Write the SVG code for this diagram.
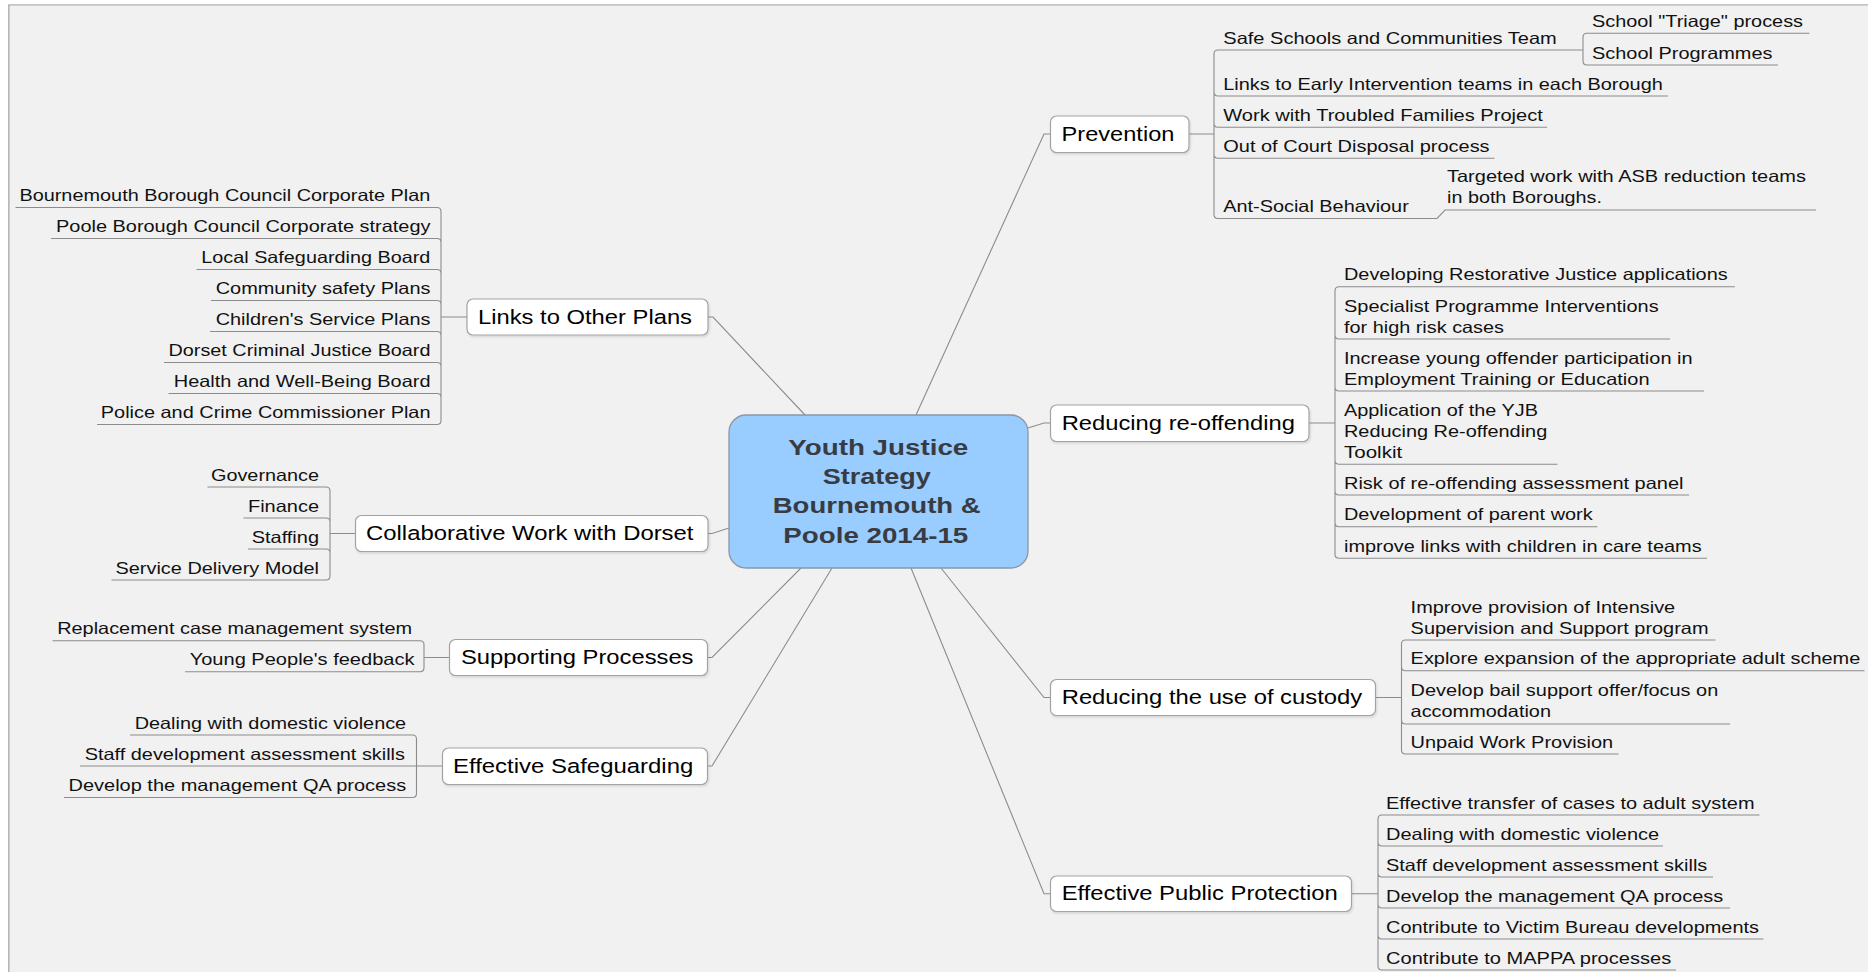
<svg xmlns="http://www.w3.org/2000/svg" width="1868" height="972" viewBox="0 0 1868 972">
<defs>
<style>
.page{fill:#f1f1f1;stroke:#8a8a8a;stroke-width:1.2}
.ln{fill:none;stroke:#8c8c8c;stroke-width:1.1}
.ul{fill:none;stroke:#8c8c8c;stroke-width:1.1}
.topic{fill:#ffffff;stroke:#a3a3a3;stroke-width:1.2}
.center{fill:#99ccff;stroke:#8a97a6;stroke-width:1.3}
.lf{font-family:"Liberation Sans",Arial,sans-serif;font-size:16.5px;fill:#111}
.tp{font-family:"Liberation Sans",Arial,sans-serif;font-size:20.5px;fill:#000}
.ct{font-family:"Liberation Sans",Arial,sans-serif;font-size:22.5px;font-weight:bold;fill:#383c42}
</style>
<filter id="sh" x="-5%" y="-20%" width="110%" height="150%">
<feDropShadow dx="1" dy="1.5" stdDeviation="1" flood-color="#000" flood-opacity="0.12"/>
</filter>
</defs>
<rect x="0" y="0" width="1868" height="972" fill="#ffffff"/>
<path class="page" d="M9,973 V5 H1869"/>
<rect x="9.6" y="5.6" width="1860" height="968" fill="#f1f1f1"/>

<g id="connectors">
<path class="ln" d="M708,317 h5 L805,415"/>
<path class="ln" d="M708,533.5 h4 L729,528"/>
<path class="ln" d="M708,657.5 h4 L801,568"/>
<path class="ln" d="M708,766 h4 L832,568"/>
<path class="ln" d="M916,415 L1044,134 H1050.5"/>
<path class="ln" d="M1028,428 L1044,423 H1050.5"/>
<path class="ln" d="M941,568 L1044,697.5 H1050.5"/>
<path class="ln" d="M911,568 L1044,893.7 H1050.5"/>

<path class="ul" d="M15.5,207.5 H437 Q441,207.5 441,211.5 V420.5 Q441,424.5 437,424.5 H97 M51,238.5 H437 Q441,238.5 441,242.5 M196.5,269.5 H437 Q441,269.5 441,273.5 M211,300.5 H437 Q441,300.5 441,304.5 M210,331.5 H437 Q441,331.5 441,335.5 M164,362.5 H437 Q441,362.5 441,366.5 M168.5,393.5 H437 Q441,393.5 441,397.5 M441,317 H467"/>
<path class="ul" d="M207.5,487 H326 Q330,487 330,491 V576 Q330,580 326,580 H111.5 M243.5,518 H326 Q330,518 330,522 M248,549 H326 Q330,549 330,553 M330,533.5 H355.5"/>
<path class="ul" d="M52.5,640.7 H420 Q424,640.7 424,644.7 V667.7 Q424,671.7 420,671.7 H185 M424,657.5 H449.5"/>
<path class="ul" d="M130,735 H412.5 Q416.5,735 416.5,739 V793.5 Q416.5,797.5 412.5,797.5 H64 M80,766 H442.5"/>

<path class="ul" d="M1214,54 Q1214,50 1218,50 H1583 M1214,54 V214.5 Q1214,218.5 1218,218.5 H1437 L1445,210 H1816 M1214,92 Q1214,96 1218,96 H1668 M1214,123.3 Q1214,127.3 1218,127.3 H1547 M1214,154.3 Q1214,158.3 1218,158.3 H1494.5 M1189,134 H1214"/>
<path class="ul" d="M1583,37.3 Q1583,33.3 1587,33.3 H1809.5 M1583,37.3 V61 Q1583,65 1587,65 H1778"/>
<path class="ul" d="M1335,290.7 Q1335,286.7 1339,286.7 H1735 M1335,290.7 V554.3 Q1335,558.3 1339,558.3 H1707 M1335,335 Q1335,339 1339,339 H1670 M1335,387 Q1335,391 1339,391 H1704 M1335,460.3 Q1335,464.3 1339,464.3 H1557.5 M1335,491 Q1335,495 1339,495 H1689 M1335,522.7 Q1335,526.7 1339,526.7 H1597.5 M1308.5,423 H1335"/>
<path class="ul" d="M1401.5,644 Q1401.5,640 1405.5,640 H1715.5 M1401.5,644 V750 Q1401.5,754 1405.5,754 H1618.5 M1401.5,666.7 Q1401.5,670.7 1405.5,670.7 H1864.5 M1401.5,720 Q1401.5,724 1405.5,724 H1730 M1375.5,697.5 H1401.5"/>
<path class="ul" d="M1378,819 Q1378,815 1382,815 H1759.5 M1378,819 V966 Q1378,970 1382,970 H1676 M1378,842 Q1378,846 1382,846 H1663 M1378,873 Q1378,877 1382,877 H1713 M1378,904 Q1378,908 1382,908 H1730 M1378,935 Q1378,939 1382,939 H1763.5 M1351.5,893.7 H1378"/>
</g>

<g id="center">
<rect class="center" x="729" y="415" width="299" height="153" rx="17"/>
<text class="ct" x="788.3" y="454.5" textLength="180" lengthAdjust="spacingAndGlyphs">Youth Justice</text>
<text class="ct" x="822.7" y="483.5" textLength="108" lengthAdjust="spacingAndGlyphs">Strategy</text>
<text class="ct" x="772.7" y="513" textLength="208" lengthAdjust="spacingAndGlyphs">Bournemouth &amp;</text>
<text class="ct" x="783.3" y="543" textLength="185" lengthAdjust="spacingAndGlyphs">Poole 2014-15</text>
</g>

<g id="links-to-other-plans">
<rect class="topic" filter="url(#sh)" x="467" y="299" width="241" height="36" rx="6"/>
<text class="tp" x="478" y="323.5" textLength="214" lengthAdjust="spacingAndGlyphs">Links to Other Plans</text>
<text class="lf" x="19.4" y="201" textLength="411" lengthAdjust="spacingAndGlyphs">Bournemouth Borough Council Corporate Plan</text>
<text class="lf" x="56" y="232" textLength="374.5" lengthAdjust="spacingAndGlyphs">Poole Borough Council Corporate strategy</text>
<text class="lf" x="201.3" y="263" textLength="229" lengthAdjust="spacingAndGlyphs">Local Safeguarding Board</text>
<text class="lf" x="215.7" y="294" textLength="214.8" lengthAdjust="spacingAndGlyphs">Community safety Plans</text>
<text class="lf" x="215.7" y="325" textLength="214.8" lengthAdjust="spacingAndGlyphs">Children's Service Plans</text>
<text class="lf" x="168.5" y="356" textLength="262" lengthAdjust="spacingAndGlyphs">Dorset Criminal Justice Board</text>
<text class="lf" x="173.8" y="387" textLength="256.7" lengthAdjust="spacingAndGlyphs">Health and Well-Being Board</text>
<text class="lf" x="100.8" y="418" textLength="329.7" lengthAdjust="spacingAndGlyphs">Police and Crime Commissioner Plan</text>
</g>

<g id="collaborative-work">
<rect class="topic" filter="url(#sh)" x="355.5" y="515.5" width="352.5" height="36" rx="6"/>
<text class="tp" x="366" y="540" textLength="327.5" lengthAdjust="spacingAndGlyphs">Collaborative Work with Dorset</text>
<text class="lf" x="211" y="480.5" textLength="108" lengthAdjust="spacingAndGlyphs">Governance</text>
<text class="lf" x="248" y="511.5" textLength="71" lengthAdjust="spacingAndGlyphs">Finance</text>
<text class="lf" x="251.7" y="542.5" textLength="67.3" lengthAdjust="spacingAndGlyphs">Staffing</text>
<text class="lf" x="115.5" y="573.5" textLength="203.5" lengthAdjust="spacingAndGlyphs">Service Delivery Model</text>
</g>

<g id="supporting-processes">
<rect class="topic" filter="url(#sh)" x="449.5" y="639.5" width="258" height="36" rx="6"/>
<text class="tp" x="461" y="664" textLength="232.5" lengthAdjust="spacingAndGlyphs">Supporting Processes</text>
<text class="lf" x="57.2" y="634.2" textLength="355" lengthAdjust="spacingAndGlyphs">Replacement case management system</text>
<text class="lf" x="189.7" y="665.2" textLength="224.8" lengthAdjust="spacingAndGlyphs">Young People's feedback</text>
</g>

<g id="effective-safeguarding">
<rect class="topic" filter="url(#sh)" x="442.5" y="748" width="265" height="36.5" rx="6"/>
<text class="tp" x="453" y="772.8" textLength="240.3" lengthAdjust="spacingAndGlyphs">Effective Safeguarding</text>
<text class="lf" x="134.7" y="728.5" textLength="271.5" lengthAdjust="spacingAndGlyphs">Dealing with domestic violence</text>
<text class="lf" x="84.7" y="759.5" textLength="320.3" lengthAdjust="spacingAndGlyphs">Staff development assessment skills</text>
<text class="lf" x="68.5" y="791" textLength="337.7" lengthAdjust="spacingAndGlyphs">Develop the management QA process</text>
</g>

<g id="prevention">
<rect class="topic" filter="url(#sh)" x="1050.5" y="116" width="138.5" height="36.5" rx="6"/>
<text class="tp" x="1061.6" y="141" textLength="112.8" lengthAdjust="spacingAndGlyphs">Prevention</text>
<text class="lf" x="1223.3" y="43.5" textLength="333.5" lengthAdjust="spacingAndGlyphs">Safe Schools and Communities Team</text>
<text class="lf" x="1592" y="26.8" textLength="211" lengthAdjust="spacingAndGlyphs">School "Triage" process</text>
<text class="lf" x="1592" y="58.5" textLength="180.5" lengthAdjust="spacingAndGlyphs">School Programmes</text>
<text class="lf" x="1223.3" y="89.5" textLength="439.5" lengthAdjust="spacingAndGlyphs">Links to Early Intervention teams in each Borough</text>
<text class="lf" x="1223.3" y="120.8" textLength="319.5" lengthAdjust="spacingAndGlyphs">Work with Troubled Families Project</text>
<text class="lf" x="1223.3" y="151.8" textLength="266.3" lengthAdjust="spacingAndGlyphs">Out of Court Disposal process</text>
<text class="lf" x="1223.3" y="212" textLength="185.5" lengthAdjust="spacingAndGlyphs">Ant-Social Behaviour</text>
<text class="lf" x="1447" y="182" textLength="359" lengthAdjust="spacingAndGlyphs">Targeted work with ASB reduction teams</text>
<text class="lf" x="1447" y="203.3" textLength="155" lengthAdjust="spacingAndGlyphs">in both Boroughs.</text>
</g>

<g id="reducing-re-offending">
<rect class="topic" filter="url(#sh)" x="1050.5" y="405" width="258.5" height="36.5" rx="6"/>
<text class="tp" x="1061.7" y="429.8" textLength="233.3" lengthAdjust="spacingAndGlyphs">Reducing re-offending</text>
<text class="lf" x="1344" y="280.2" textLength="383.7" lengthAdjust="spacingAndGlyphs">Developing Restorative Justice applications</text>
<text class="lf" x="1344" y="311.5" textLength="314.6" lengthAdjust="spacingAndGlyphs">Specialist Programme Interventions</text>
<text class="lf" x="1344" y="332.5" textLength="160" lengthAdjust="spacingAndGlyphs">for high risk cases</text>
<text class="lf" x="1344" y="363.5" textLength="348.5" lengthAdjust="spacingAndGlyphs">Increase young offender participation in</text>
<text class="lf" x="1344" y="384.5" textLength="305.5" lengthAdjust="spacingAndGlyphs">Employment Training or Education</text>
<text class="lf" x="1344" y="415.8" textLength="194" lengthAdjust="spacingAndGlyphs">Application of the YJB</text>
<text class="lf" x="1344" y="436.8" textLength="203.2" lengthAdjust="spacingAndGlyphs">Reducing Re-offending</text>
<text class="lf" x="1344" y="457.8" textLength="58.2" lengthAdjust="spacingAndGlyphs">Toolkit</text>
<text class="lf" x="1344" y="488.5" textLength="339.5" lengthAdjust="spacingAndGlyphs">Risk of re-offending assessment panel</text>
<text class="lf" x="1344" y="520.2" textLength="248.6" lengthAdjust="spacingAndGlyphs">Development of parent work</text>
<text class="lf" x="1344" y="551.8" textLength="357.6" lengthAdjust="spacingAndGlyphs">improve links with children in care teams</text>
</g>

<g id="reducing-custody">
<rect class="topic" filter="url(#sh)" x="1050.5" y="679.5" width="325" height="36" rx="6"/>
<text class="tp" x="1061.7" y="704.3" textLength="300.5" lengthAdjust="spacingAndGlyphs">Reducing the use of custody</text>
<text class="lf" x="1410.6" y="612.5" textLength="264.6" lengthAdjust="spacingAndGlyphs">Improve provision of Intensive</text>
<text class="lf" x="1410.6" y="633.5" textLength="297.9" lengthAdjust="spacingAndGlyphs">Supervision and Support program</text>
<text class="lf" x="1410.6" y="664.2" textLength="449.7" lengthAdjust="spacingAndGlyphs">Explore expansion of the appropriate adult scheme</text>
<text class="lf" x="1410.6" y="695.5" textLength="307.7" lengthAdjust="spacingAndGlyphs">Develop bail support offer/focus on</text>
<text class="lf" x="1410.6" y="716.5" textLength="140.4" lengthAdjust="spacingAndGlyphs">accommodation</text>
<text class="lf" x="1410.6" y="747.5" textLength="202.6" lengthAdjust="spacingAndGlyphs">Unpaid Work Provision</text>
</g>

<g id="effective-public-protection">
<rect class="topic" filter="url(#sh)" x="1050.5" y="876" width="301" height="35.5" rx="6"/>
<text class="tp" x="1061.7" y="900.2" textLength="276" lengthAdjust="spacingAndGlyphs">Effective Public Protection</text>
<text class="lf" x="1386" y="808.5" textLength="368.5" lengthAdjust="spacingAndGlyphs">Effective transfer of cases to adult system</text>
<text class="lf" x="1386" y="839.5" textLength="273.2" lengthAdjust="spacingAndGlyphs">Dealing with domestic violence</text>
<text class="lf" x="1386" y="870.5" textLength="321.3" lengthAdjust="spacingAndGlyphs">Staff development assessment skills</text>
<text class="lf" x="1386" y="901.5" textLength="337.2" lengthAdjust="spacingAndGlyphs">Develop the management QA process</text>
<text class="lf" x="1386" y="932.5" textLength="373" lengthAdjust="spacingAndGlyphs">Contribute to Victim Bureau developments</text>
<text class="lf" x="1386" y="963.5" textLength="285.2" lengthAdjust="spacingAndGlyphs">Contribute to MAPPA processes</text>
</g>
</svg>
